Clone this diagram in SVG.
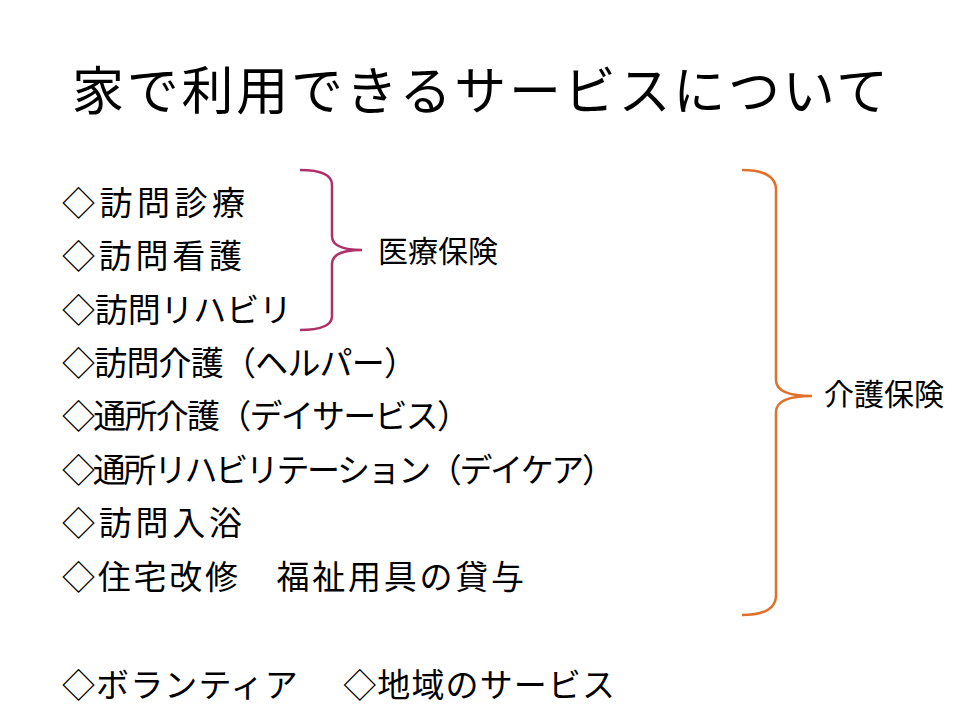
<svg xmlns="http://www.w3.org/2000/svg" width="960" height="720" viewBox="0 0 960 720">
<style>
.t{font-family:"Liberation Sans","Noto Sans CJK JP",sans-serif;fill:#000}
.li{font-size:33px}
.lb{font-size:30px}
.br{fill:none;stroke-width:2.5}
</style>
<rect width="960" height="720" fill="#fff"/>
<text class="t" x="72" y="110" font-size="52" textLength="816" lengthAdjust="spacing">家で利用できるサービスについて</text>
<g id="items">
<text class="t li" x="62" y="215" textLength="183">◇訪問診療</text>
<text class="t li" x="62" y="268" textLength="180">◇訪問看護</text>
<text class="t li" x="62" y="322" textLength="230">◇訪問リハビリ</text>
<text class="t li" x="62" y="375" textLength="355">◇訪問介護（ヘルパー）</text>
<text class="t li" x="62" y="428" textLength="408">◇通所介護（デイサービス）</text>
<text class="t li" x="62" y="482" textLength="553">◇通所リハビリテーション（デイケア）</text>
<text class="t li" x="62" y="535" textLength="180">◇訪問入浴</text>
<text class="t li" x="62" y="589" textLength="462">◇住宅改修　福祉用具の貸与</text>
<text class="t li" x="62" y="697" textLength="553">◇ボランティア　 ◇地域のサービス</text>
</g>
<g id="connectors">
<path class="br" stroke="#B0306A" d="M300,170 Q332,170 332,185 L332,236 Q332,250 362,250 Q332,250 332,264 L332,316 Q332,330 300,330"/>
<path class="br" stroke="#E0702A" d="M742,170 Q776,170 776,190 L776,380 Q776,396 812,396 Q776,396 776,412 L776,595 Q776,615 742,615"/>
</g>
<g id="medical"><text class="t lb" x="378" y="262">医療保険</text></g>
<g id="care"><text class="t lb" x="824" y="405">介護保険</text></g>
</svg>
